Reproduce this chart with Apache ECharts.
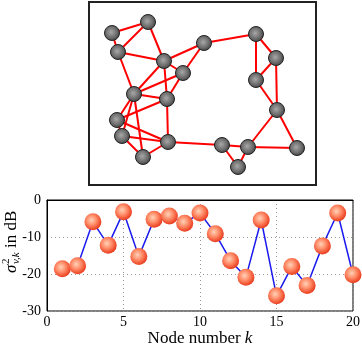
<!DOCTYPE html>
<html lang="en">
<head>
    <meta charset="UTF-8">
    <title>Node noise variance</title>
    <script src="https://cdn.jsdelivr.net/npm/echarts@6/dist/echarts.min.js"></script>
    <style>
        html, body { margin: 0; padding: 0; background: #fff; }
        #main { width: 362px; height: 346px; }
    </style>
</head>
<body>
<div id="main"></div>
<script type="text/javascript">
    // network layout (node positions inside the box) and its links
    var nodeX = [23, 59, 29, 75, 94, 115, 167, 187, 167, 188, 45, 78, 28, 33, 54, 79, 133, 159, 149, 208];
    var nodeY = [31, 20, 50, 59, 71, 41, 32, 56, 78, 108, 92, 97, 118, 134, 155, 140, 143, 145, 165, 146];
    var links = [[0,1],[0,2],[1,2],[1,3],[2,3],[2,10],[3,5],[3,4],[4,5],[3,10],[3,11],[4,10],[4,11],
        [10,11],[5,6],[6,7],[6,8],[7,8],[7,9],[8,9],[9,17],[9,19],[17,19],[16,17],[16,18],[17,18],
        [15,16],[11,15],[10,12],[10,13],[10,14],[12,11],[12,15],[13,15],[13,14],[14,15],[12,13]];

    // noise variance per node, dB
    var nodeNumbers = [1,2,3,4,5,6,7,8,9,10,11,12,13,14,15,16,17,18,19,20];
    var varianceDb = [-18.6, -17.8, -5.9, -12.2, -3.2, -15.3, -5.2, -4.3, -6.3, -3.5,
        -9.1, -16.4, -20.9, -5.4, -25.9, -18.0, -23.1, -12.4, -3.5, -20.2];

    var serif = '"Liberation Serif", "DejaVu Serif", serif';

    var graphNodes = [];
    for (var i = 0; i < nodeX.length; i++) {
        graphNodes.push({value: [nodeX[i], nodeY[i]]});
    }
    var graphLinks = links.map(function (l) { return {source: l[0], target: l[1]}; });

    var lineData = nodeNumbers.map(function (k, i) { return [k, varianceDb[i]]; });

    // y axis title, drawn as a rotated group so the sub/superscript can sit on top of each other
    function yTitle() {
        var txt = function (x, y, s, size, italic) {
            return {
                type: 'text', x: x, y: y,
                style: {text: s, fontFamily: serif, fontSize: size, fontStyle: italic ? 'italic' : 'normal',
                    fill: '#000', align: 'left', verticalAlign: 'middle'}
            };
        };
        return {
            type: 'group', x: 12, y: 248, rotation: Math.PI / 2,
            children: [
                txt(-25, 0, 'σ', 17, true),
                txt(-16, -6, '2', 11, false),
                txt(-16, 4, 'v,k', 11, true),
                txt(0, 0, 'in dB', 17, false)
            ]
        };
    }

    var option = {
        animation: false,
        grid: [
            {left: 47, right: 9, top: 200, bottom: 35, show: true, borderColor: '#000', borderWidth: 1,
                outerBoundsMode: 'none', containLabel: false},
            {left: 89, top: 2, width: 227, height: 183, show: true, borderColor: '#222', borderWidth: 2,
                outerBoundsMode: 'none', containLabel: false}
        ],
        xAxis: [
            {
                gridIndex: 0, type: 'value', min: 0, max: 20, interval: 5,
                name: '{n|Node number }{k|k}', nameLocation: 'middle', nameGap: 19,
                nameTextStyle: {rich: {
                    n: {fontFamily: serif, fontSize: 17, color: '#000'},
                    k: {fontFamily: serif, fontSize: 17, fontStyle: 'italic', color: '#000'}
                }},
                axisLine: {lineStyle: {color: '#000'}},
                axisTick: {show: false},
                axisLabel: {fontFamily: serif, fontSize: 14, color: '#000', margin: 4},
                splitLine: {lineStyle: {type: [1, 3], color: '#999'}}
            },
            {gridIndex: 1, type: 'value', min: 0, max: 227, show: false}
        ],
        yAxis: [
            {
                gridIndex: 0, type: 'value', min: -30, max: 0, interval: 10,
                axisLine: {show: true, lineStyle: {color: '#000'}},
                axisTick: {show: false},
                axisLabel: {fontFamily: serif, fontSize: 14, color: '#000', margin: 6},
                splitLine: {lineStyle: {type: [1, 3], color: '#999'}}
            },
            {gridIndex: 1, type: 'value', min: 0, max: 183, inverse: true, show: false}
        ],
        graphic: [yTitle()],
        series: [
            {
                type: 'line',
                xAxisIndex: 0, yAxisIndex: 0,
                data: lineData,
                lineStyle: {color: '#1a1aee', width: 1.5},
                symbol: 'circle',
                symbolSize: 17,
                itemStyle: {
                    color: {
                        type: 'radial', x: 0.42, y: 0.4, r: 0.6,
                        colorStops: [
                            {offset: 0, color: '#ffd2b8'},
                            {offset: 0.5, color: '#ff8a66'},
                            {offset: 1, color: '#ea3c1e'}
                        ]
                    },
                    borderWidth: 0
                },
                z: 3
            },
            {
                type: 'graph',
                coordinateSystem: 'cartesian2d',
                xAxisIndex: 1, yAxisIndex: 1,
                data: graphNodes,
                links: graphLinks,
                symbol: 'circle',
                symbolSize: 15,
                itemStyle: {
                    color: {
                        type: 'radial', x: 0.45, y: 0.45, r: 0.6,
                        colorStops: [
                            {offset: 0, color: '#a8a8a8'},
                            {offset: 0.6, color: '#6a6a6a'},
                            {offset: 1, color: '#3a3a3a'}
                        ]
                    },
                    borderColor: '#222',
                    borderWidth: 1
                },
                lineStyle: {color: '#ff0000', width: 2, opacity: 1, curveness: 0},
                label: {show: false}
            }
        ]
    };

    var chart = echarts.init(document.getElementById('main'));
    chart.setOption(option);
</script>
</body>
</html>
